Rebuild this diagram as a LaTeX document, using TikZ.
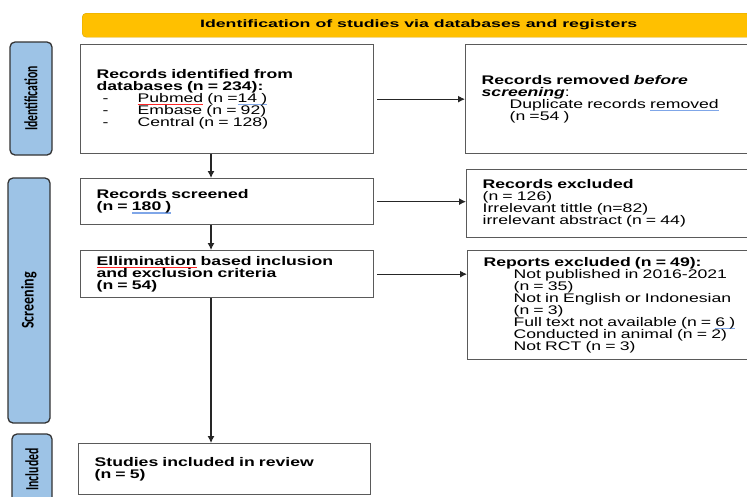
\documentclass[tikz,border=0pt]{standalone}
\usepackage{fontspec}
\setmainfont{Liberation Sans}[FakeStretch=1.41]
\newfontfamily\headfont{Liberation Sans}[FakeStretch=1.66]
\newfontfamily\sidefont{Carlito}[FakeStretch=0.63]
\newfontfamily\sidefontw{Carlito}[FakeStretch=0.79]
\usetikzlibrary{arrows.meta,calc}
\tikzset{>={Latex[length=7pt,width=7pt]}}

\definecolor{hdryellow}{HTML}{FFC000}
\definecolor{hdrborder}{HTML}{D9A400}
\definecolor{sideblue}{HTML}{9DC3E6}
\definecolor{boxgray}{HTML}{5A5A5A}
\definecolor{spellblue}{HTML}{7FA6E8}

% spell-check marks under words
\newcommand{\spellred}[1]{\leavevmode\setbox0\hbox{#1}%
    \rlap{\textcolor{red!85}{\rule[-2.6pt]{\wd0}{0.9pt}}}\box0\relax}
\newcommand{\spellmark}[1]{\leavevmode\setbox0\hbox{#1}%
    \rlap{\textcolor{spellblue}{\rule[-2.8pt]{\wd0}{1.3pt}}}\box0\relax}
\newcommand{\dashitem}[1]{\hspace*{6pt}\makebox[35pt][l]{-}#1}

\begin{document}
\begin{tikzpicture}[x=1pt,y=-1pt,
    box/.style={draw=boxgray, line width=1.3pt, anchor=north west, align=left,
        inner xsep=16pt, inner ysep=0pt, font=\fontsize{12.5}{12}\selectfont},
    sidebar/.style={draw=black!80, line width=1.3pt, fill=sideblue, rounded corners=5pt,
        rotate=90, text=black, inner sep=0pt},
    flow/.style={->, line width=1.1pt, black!85}]
    \clip (0,0) rectangle (747,496);

    % header bar
    \node[draw=hdrborder, fill=hdryellow, rounded corners=4pt, anchor=north west,
        minimum width=673pt, minimum height=24pt, inner sep=0pt,
        font=\headfont\fontsize{10.7}{12}\selectfont\bfseries] (hdr) at (82,13)
        {Identification of studies via databases and registers};

    % phase labels
    \node[sidebar, minimum width=113pt, minimum height=42pt,
        font=\sidefont\fontsize{18.6}{20}\selectfont\bfseries] (idside) at (31,98.5) {Identification};
    \node[sidebar, minimum width=245pt, minimum height=42pt,
        font=\sidefontw\fontsize{17.8}{20}\selectfont\bfseries] (scrside) at (29,300.5) {Screening};
    \node[sidebar, minimum width=71pt, minimum height=40pt,
        font=\sidefont\fontsize{18.6}{20}\selectfont\bfseries] (inclside) at (32,469.5) {Included};

    % left column
    \node[box, text width=261pt, minimum height=109pt] (dbrec) at (80,44)
        {\textbf{Records identified from}\\
         \textbf{databases (n = 234):}\\
         \dashitem{\spellred{Pubmed} (n =\spellmark{14 )}}\\
         \dashitem{Embase (n = 92)}\\
         \dashitem{Central (n = 128)}};
    \node[box, text width=261pt, minimum height=46pt] (screened) at (80,178)
        {\textbf{Records screened}\\
         \textbf{(n = \spellmark{180 )}}};
    \node[box, text width=261pt, minimum height=47pt] (elim) at (80,250)
        {\textbf{\spellred{Ellimination} based inclusion}\\
         \textbf{and exclusion criteria}\\
         \textbf{(n = 54)}};
    \node[box, text width=260pt, minimum height=51pt] (incl) at (78,443)
        {\textbf{Studies included in review}\\
         \textbf{(n = 5)}};

    % right column
    \node[box, text width=263pt, minimum height=109pt] (dupl) at (465,44)
        {\textbf{Records removed \textit{before}}\\
         \textbf{\textit{screening}}:\\
         \hspace*{28pt}Duplicate records \spellmark{removed}\\
         \hspace*{28pt}(n =54 )};
    \node[box, text width=263pt, minimum height=68pt] (excl) at (466,169)
        {\textbf{Records excluded}\\
         (n = 126)\\
         Irrelevant tittle (n=82)\\
         irrelevant abstract (n = 44)};
    \node[box, text width=263pt, minimum height=109pt] (rep) at (467,250)
        {\textbf{Reports excluded (n = 49):}\\
         \hspace*{30pt}Not published in 2016-2021\\
         \hspace*{30pt}(n = 35)\\
         \hspace*{30pt}Not in English or Indonesian\\
         \hspace*{30pt}(n = 3)\\
         \hspace*{30pt}Full text not available (n = \spellmark{6 )}\\
         \hspace*{30pt}Conducted in animal (n = 2)\\
         \hspace*{30pt}Not RCT (n = 3)};

    % arrows
    \coordinate (spine) at (211,0);
    \draw[flow] (dbrec.south -| spine) -- (screened.north -| spine);
    \draw[flow] (screened.south -| spine) -- (elim.north -| spine);
    \draw[flow] (elim.south -| spine) -- (incl.north -| spine);
    \draw[flow, shorten <=3pt] (dbrec.east) -- (dbrec.east -| dupl.west);
    \draw[flow, shorten <=3pt] (screened.east) -- (screened.east -| excl.west);
    \draw[flow, shorten <=3pt] (elim.east) -- (elim.east -| rep.west);
\end{tikzpicture}
\end{document}
